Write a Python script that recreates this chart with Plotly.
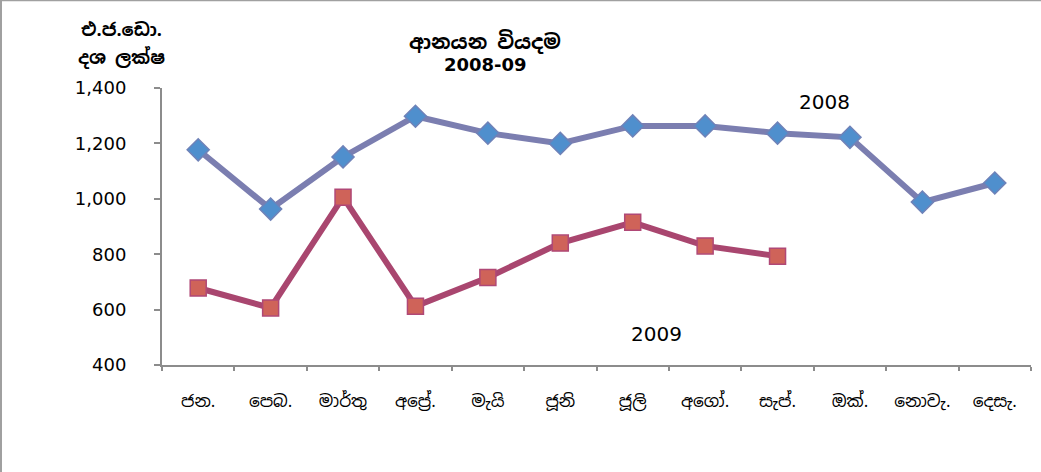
import plotly.graph_objects as go

months = ["ජන.", "පෙබ.", "මාර්තු", "අප්‍රේ.", "මැයි", "ජූනි", "ජූලි", "අගෝ.", "සැප්.", "ඔක්.", "නොවැ.", "දෙසැ."]
values_2008 = [1177, 963, 1151, 1298, 1237, 1200, 1263, 1263, 1237, 1222, 988, 1057]
values_2009 = [678, 606, 1006, 612, 716, 840, 915, 830, 793]
y_ticks = [400, 600, 800, 1000, 1200, 1400]

W, H = 1041, 472
L, R, T, B = 162, 10, 88, 107
pw, ph = W - L - R, H - T - B

fig = go.Figure()
fig.add_trace(go.Scatter(
    x=months, y=values_2008, mode="lines+markers", name="2008",
    line=dict(color="#7b7eb0", width=6),
    marker=dict(symbol="diamond", size=17, color="#4f8fcd", line=dict(color="#6f82b8", width=1.5)),
))
fig.add_trace(go.Scatter(
    x=months[:len(values_2009)], y=values_2009, mode="lines+markers", name="2009",
    line=dict(color="#a9466f", width=6),
    marker=dict(symbol="square", size=16, color="#cf6359", line=dict(color="#b04876", width=1.5)),
))

axis_color = "#8c8c8c"
sinhala_font = "Iskoola Pota, Noto Sans Sinhala, Noto Serif Sinhala, serif"
latin_font = "DejaVu Sans, Verdana, sans-serif"
fig.update_xaxes(
    type="category", categoryorder="array", categoryarray=months,
    range=[-0.5, len(months) - 0.5],
    showline=True, linecolor=axis_color, linewidth=2,
    ticks="outside", tickson="boundaries", ticklen=4, tickcolor=axis_color, tickwidth=2,
    showgrid=False, zeroline=False,
    tickfont=dict(family=sinhala_font, size=17, color="#000000"),
    ticklabelstandoff=20,
)
fig.update_yaxes(
    range=[400, 1400], tickvals=y_ticks, tickformat=",d",
    showline=True, linecolor=axis_color, linewidth=2,
    ticks="outside", ticklen=6, tickcolor=axis_color, tickwidth=2,
    showgrid=False, zeroline=False,
    tickfont=dict(family=latin_font, size=18, color="#000000"),
    ticklabelstandoff=24,
)

def px_x(x):
    return (x - L) / pw

def px_y(y):
    return (H - B - y) / ph

def label(text, x, y, size, family, bold=False):
    return dict(text=f"<b>{text}</b>" if bold else text, x=px_x(x), y=px_y(y),
                xref="paper", yref="paper", showarrow=False, xanchor="center", yanchor="middle",
                font=dict(family=family, size=size, color="#000"))

ann = [
    label("එ.ජ.ඩො.", 121, 30, 18, sinhala_font, True),
    label("දශ ලක්ෂ", 121, 57, 18, sinhala_font, True),
    label("ආනයන වියදම", 485, 42, 20, sinhala_font, True),
    label("2008-09", 485, 65, 18, latin_font, True),
    label("2008", 824, 102, 20, latin_font),
    label("2009", 656, 334, 20, latin_font),
]

fig.update_layout(
    width=W, height=H,
    margin=dict(l=L, r=R, t=T, b=B),
    paper_bgcolor="white", plot_bgcolor="white",
    showlegend=False,
    annotations=ann,
    shapes=[
        dict(type="line", xref="paper", yref="paper", x0=px_x(0), x1=px_x(W), y0=px_y(0.5), y1=px_y(0.5),
             line=dict(color="#a0a0a0", width=1.5)),
        dict(type="line", xref="paper", yref="paper", x0=px_x(1), x1=px_x(1), y0=px_y(0), y1=px_y(H),
             line=dict(color="#a0a0a0", width=2)),
    ],
)

fig.write_html("out.html", config={"displayModeBar": False},
               post_script="document.body.style.margin='0';")
